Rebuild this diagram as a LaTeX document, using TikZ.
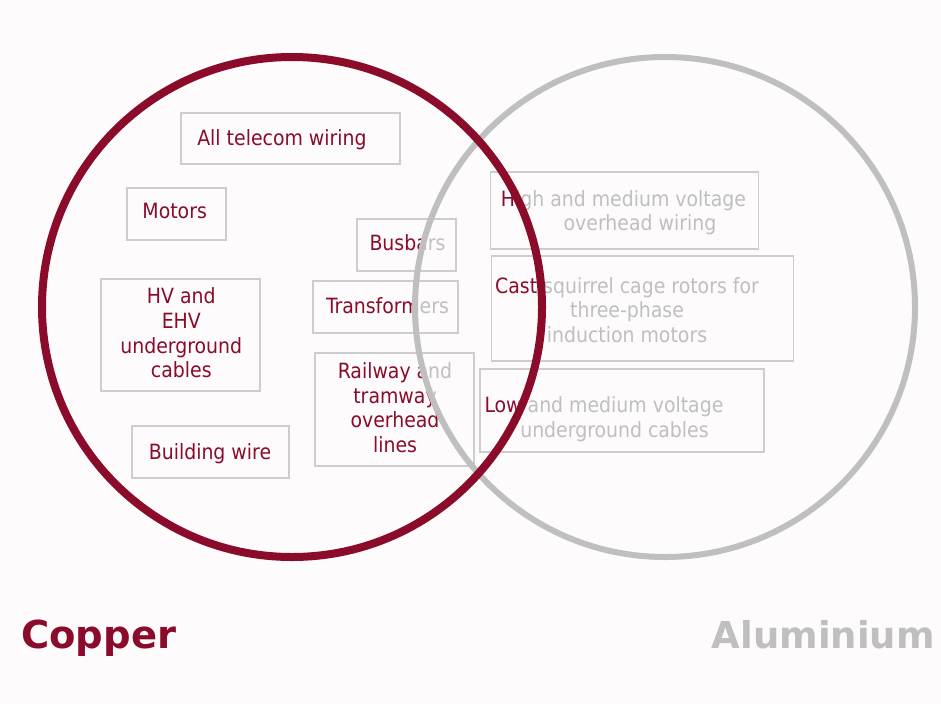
\documentclass[tikz,border=0pt]{standalone}
\usepackage{fontspec}
\setmainfont{DejaVu Sans Condensed}
\newfontfamily\labelfont{DejaVu Sans}
\definecolor{cu}{RGB}{138,12,42}
\definecolor{al}{RGB}{191,191,191}
\definecolor{bx}{RGB}{205,205,205}
\definecolor{bg}{RGB}{253,251,252}
\tikzset{
  box/.style={draw=bx, line width=1.5pt, inner sep=0pt},
  txt/.style={align=center, inner sep=0pt, font=\fontsize{21}{24.7}\selectfont},
  biglabel/.style={anchor=base, inner sep=0pt}
}
\newcommand{\cuitems}{%
  \node[txt, anchor=base] (tel) at (282,145) {All telecom wiring};
  \node[txt, anchor=base] (mot) at (174.7,218.3) {Motors};
  \node[txt, anchor=base] (bus) at (407.5,250) {Busbars};
  \node[txt, anchor=base] (tra) at (387.5,313.3) {Transformers};
  \node[txt, anchor=base] (bui) at (210,459) {Building wire};
  \node[txt] (hv) at (181.3,333) {HV and\\EHV\\underground\\cables};
  \node[txt] (rail) at (395,407.75) {Railway and\\tramway\\overhead\\lines};
}
\newcommand{\alitems}{%
  \node[txt] (high) at (623.5,212.7) {High and medium voltage\\\hbox to 33pt{}overhead wiring};
  \node[txt] (cast) at (627,310) {Cast squirrel cage rotors for\\three-phase\\induction motors};
  \node[txt] (low) at (614.5,419.3) {Low and medium voltage\hbox to 21pt{}\\underground cables};
}
\begin{document}
\begin{tikzpicture}[x=1pt,y=-1pt]
  \fill[bg] (0,0) rectangle (941,704);
  \useasboundingbox (0,0) rectangle (941,704);
  % boxes
  \node[box, minimum width=219, minimum height=51] (btel) at (290.5,138.5) {};
  \node[box, minimum width=99, minimum height=52] (bmot) at (176.5,214) {};
  \node[box, minimum width=99, minimum height=52] (bbus) at (406.5,245) {};
  \node[box, minimum width=159, minimum height=112] (bhv) at (180.5,335) {};
  \node[box, minimum width=145, minimum height=52] (btra) at (385.5,307) {};
  \node[box, minimum width=159, minimum height=113] (brail) at (394.5,409.5) {};
  \node[box, minimum width=157, minimum height=52] (bbui) at (210.5,452) {};
  \node[box, minimum width=268, minimum height=77] (bhigh) at (624.5,210.5) {};
  \node[box, minimum width=302, minimum height=105] (bcast) at (642.5,308.5) {};
  \node[box, minimum width=284, minimum height=83] (blow) at (622,410.5) {};
  % copper items: red outside the aluminium circle, grey inside it
  \begin{scope}[even odd rule]
    \clip (-10,-10) rectangle (951,714) (665,307) circle[radius=250];
    \begin{scope}[text=cu] \cuitems \end{scope}
  \end{scope}
  \begin{scope}[name prefix=g-]
    \clip (665,307) circle[radius=250];
    \begin{scope}[text=al] \cuitems \end{scope}
  \end{scope}
  % aluminium items: grey outside the copper circle, red inside it
  \begin{scope}[name prefix=a-, even odd rule]
    \clip (-10,-10) rectangle (951,714) (292,307) circle[radius=250];
    \begin{scope}[text=al] \alitems \end{scope}
  \end{scope}
  \begin{scope}[name prefix=r-]
    \clip (292,307) circle[radius=250];
    \begin{scope}[text=cu] \alitems \end{scope}
  \end{scope}
  % circles
  \draw[al, line width=6] (665,307) circle[radius=250];
  \draw[cu, line width=8] (292,307) circle[radius=250];
  % labels
  \node[biglabel, anchor=base west, text=cu, font=\labelfont\bfseries\fontsize{38.5}{40}\selectfont] (lcu) at (21,648) {Copper};
  \node[biglabel, anchor=base east, text=al, font=\labelfont\bfseries\fontsize{37}{40}\selectfont] (lal) at (935,648) {Aluminium};
\end{tikzpicture}
\end{document}
